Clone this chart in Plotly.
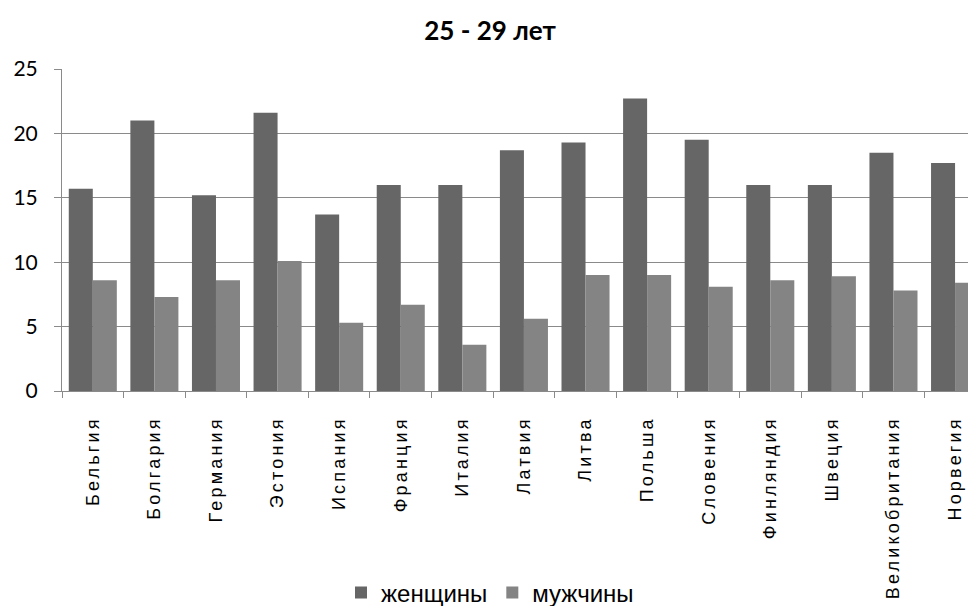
import plotly.graph_objects as go

countries = ["Бельгия", "Болгария", "Германия", "Эстония", "Испания", "Франция",
             "Италия", "Латвия", "Литва", "Польша", "Словения", "Финляндия",
             "Швеция", "Великобритания", "Норвегия"]
women = [15.7, 21.0, 15.2, 21.6, 13.7, 16.0, 16.0, 18.7, 19.3, 22.7, 19.5, 16.0, 16.0, 18.5, 17.7]
men = [8.6, 7.3, 8.6, 10.1, 5.3, 6.7, 3.6, 5.6, 9.0, 9.0, 8.1, 8.6, 8.9, 7.8, 8.4]

W, H = 968, 598  # page adds ~8px body margin

fig = go.Figure()
fig.add_trace(go.Bar(x=countries, y=women, name="женщины", marker_color="#666666",
                     marker_line_width=0))
fig.add_trace(go.Bar(x=countries, y=men, name="мужчины", marker_color="#848484",
                     marker_line_width=0))

fig.update_layout(
    width=W, height=H,
    margin=dict(l=54, r=0, t=61, b=215, autoexpand=False),
    paper_bgcolor="white", plot_bgcolor="white",
    barmode="group", bargap=0.22, bargroupgap=0,
    title=dict(text="<b>25 - 29 лет</b>", x=482 / W, xref="container", xanchor="center",
               y=1 - 23 / H, yref="container", yanchor="middle",
               font=dict(family="Lato, Open Sans, sans-serif", size=26, color="black")),
    legend=dict(orientation="h", xref="container", yref="container",
                x=482 / W, y=1 - 585 / H, xanchor="center", yanchor="middle",
                font=dict(family="Liberation Sans, Arial", size=24, color="black"),
                itemwidth=30, tracegroupgap=0, bgcolor="rgba(0,0,0,0)"),
    font=dict(family="Liberation Sans, Arial", color="black"),
    showlegend=True,
)
fig.update_xaxes(
    type="category", range=[-0.5, 14.34], tickson="boundaries",
    ticks="outside", ticklen=6, tickcolor="#8a8a8a",
    showline=True, linecolor="#8a8a8a", linewidth=1,
    showgrid=False, tickangle=-90, automargin=False,
    tickfont=dict(family="Liberation Sans, Arial", size=18, color="black"),
    ticklabelstandoff=17,
)
fig.update_yaxes(
    range=[0, 25], dtick=5, ticks="outside", ticklen=7, tickcolor="#8a8a8a",
    showline=True, linecolor="#8a8a8a", linewidth=1,
    showgrid=True, gridcolor="#8a8a8a", gridwidth=1, zeroline=False,
    automargin=False,
    tickfont=dict(family="Lato, Open Sans, sans-serif", size=21, color="black"),
    ticklabelstandoff=12,
)

post = """
var gd = document.getElementById('{plot_id}');
function ls() {
  gd.querySelectorAll('.xtick text').forEach(function (t) {
    t.style.letterSpacing = '3.2px';
  });
}
ls();
gd.on('plotly_afterplot', ls);
"""

fig.write_html("out.html", post_script=post)
